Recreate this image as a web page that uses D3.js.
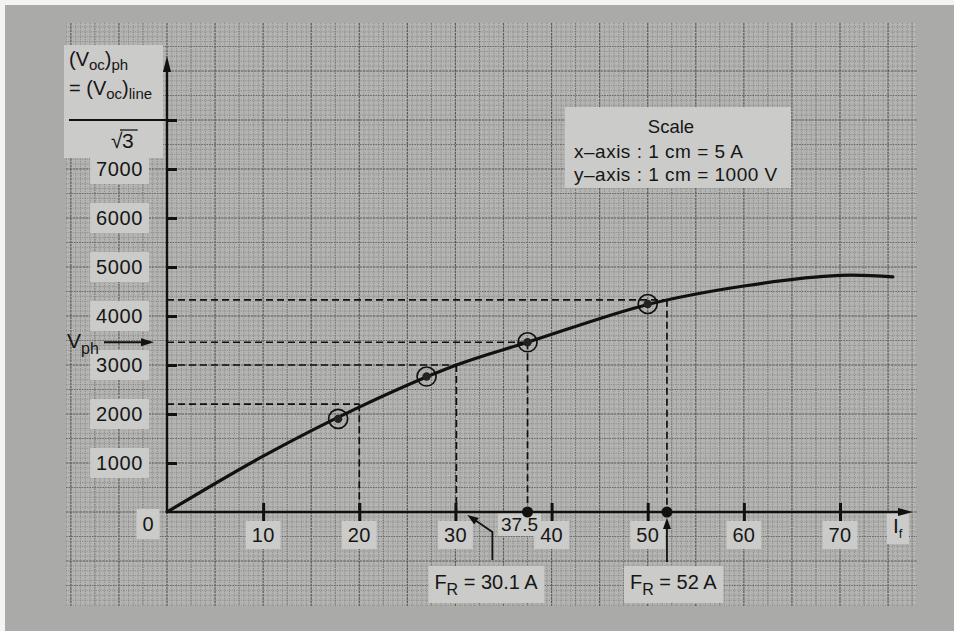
<!DOCTYPE html>
<html>
<head>
<meta charset="utf-8">
<script src="https://cdn.jsdelivr.net/npm/d3@7"></script>
<style>
  html, body { margin: 0; padding: 0; background: #f3f3f1; }
  svg { display: block; }
  text { font-family: "Liberation Sans", Arial, sans-serif; fill: #161616; }
</style>
</head>
<body>
<svg id="chart" width="954" height="631"></svg>
<script>
// Open-circuit characteristic: field current If (A) against phase voltage (V)
const curveCurrent = [0, 10, 20, 30.1, 37.5, 50, 60, 70, 75.5];
const curveVoltage = [0, 1140, 2140, 2998, 3464, 4235, 4613, 4828, 4798];

// circled test points
const pointCurrent = [17.8, 27, 37.5, 50];
const pointVoltage = [1900, 2765, 3464, 4245];

// construction lines: voltage level and the field current where it meets the curve
const guideVoltage = [2200, 3000, 3464, 4330];
const guideCurrent = [20, 30.1, 37.5, 52];
// field currents marked with a dot on the If axis
const markedCurrent = [37.5, 52];

const xTicks = [10, 20, 30, 40, 50, 60, 70];
const yTicks = [1000, 2000, 3000, 4000, 5000, 6000, 7000, 8000];
const yTickLabels = ["1000", "2000", "3000", "4000", "5000", "6000", "7000", ""];

const W = 954, H = 631;
const svg = d3.select("#chart");

const x = d3.scaleLinear().domain([0, 70]).range([167, 840]);
const y = d3.scaleLinear().domain([0, 7000]).range([512, 169]);
const x0 = x(0), y0 = y(0);

// page and sheet of graph paper
svg.append("rect").attr("width", W).attr("height", H).attr("fill", "#f3f3f1");
svg.append("rect").attr("x", 5).attr("y", 5).attr("width", W - 5).attr("height", H - 5).attr("fill", "#aaaaa8");

const paper = { left: 66, right: 917, top: 23, bottom: 606 };
svg.append("clipPath").attr("id", "paperClip").append("rect")
  .attr("x", paper.left).attr("y", paper.top)
  .attr("width", paper.right - paper.left).attr("height", paper.bottom - paper.top);
svg.append("rect")
  .attr("x", paper.left).attr("y", paper.top)
  .attr("width", paper.right - paper.left).attr("height", paper.bottom - paper.top)
  .attr("fill", "#b4b4b2");

// millimetre grid: 1 cm = 5 A horizontally, 1 cm = 1000 V vertically
const grid = svg.append("g").attr("clip-path", "url(#paperClip)");
const gridStyle = k => (k % 10 === 0) ? { c: "#575755", w: 1.2, d: "2.5,0.8" }
                    : (k % 5 === 0) ? { c: "#6a6a68", w: 1.0, d: "1.6,1" }
                    : { c: "#7e7e7c", w: 0.8, d: "1,1.3" };
{
  const kx0 = Math.ceil(x.invert(paper.left) / 0.5), kx1 = Math.floor(x.invert(paper.right) / 0.5);
  for (let k = kx0; k <= kx1; k++) {
    const s = gridStyle(Math.abs(k)), px = x(k * 0.5);
    grid.append("line").attr("x1", px).attr("x2", px).attr("y1", paper.top).attr("y2", paper.bottom)
      .attr("stroke", s.c).attr("stroke-width", s.w).attr("stroke-dasharray", s.d);
  }
  const ky0 = Math.ceil(y.invert(paper.bottom) / 100), ky1 = Math.floor(y.invert(paper.top) / 100);
  for (let k = ky0; k <= ky1; k++) {
    const s = gridStyle(Math.abs(k)), py = y(k * 100);
    grid.append("line").attr("y1", py).attr("y2", py).attr("x1", paper.left).attr("x2", paper.right)
      .attr("stroke", s.c).attr("stroke-width", s.w).attr("stroke-dasharray", s.d);
  }
}

const BOX = "#cbcbc9";
function boxBehind(sel, padX, padY) {
  sel.each(function () {
    const b = this.getBBox();
    d3.select(this.parentNode).insert("rect", () => this)
      .attr("x", b.x - padX).attr("y", b.y - padY)
      .attr("width", b.width + 2 * padX).attr("height", b.height + 2 * padY)
      .attr("fill", BOX);
  });
}

// scale note
const scaleG = svg.append("g");
scaleG.append("rect").attr("x", 565).attr("y", 107).attr("width", 226).attr("height", 81).attr("fill", BOX);
scaleG.append("text").attr("x", 671).attr("y", 133).attr("text-anchor", "middle").attr("font-size", 18.5).text("Scale");
scaleG.append("text").attr("x", 574).attr("y", 158).attr("font-size", 19).attr("letter-spacing", 0.5).text("x–axis  : 1 cm = 5 A");
scaleG.append("text").attr("x", 574).attr("y", 181).attr("font-size", 19).attr("letter-spacing", 0.5).text("y–axis  : 1 cm = 1000 V");

// axis label (Voc)ph = (Voc)line / √3
const yl = svg.append("g");
yl.append("rect").attr("x", 64).attr("y", 45).attr("width", 99).attr("height", 113).attr("fill", BOX);
const t1 = yl.append("text").attr("x", 69).attr("y", 66).attr("font-size", 20);
t1.append("tspan").text("(V");
t1.append("tspan").attr("font-size", 15).attr("dy", 4).text("oc");
t1.append("tspan").attr("dy", -4).text(")");
t1.append("tspan").attr("font-size", 15).attr("dy", 4).text("ph");
const t2 = yl.append("text").attr("x", 69).attr("y", 95).attr("font-size", 20);
t2.append("tspan").text("= (V");
t2.append("tspan").attr("font-size", 15).attr("dy", 4).text("oc");
t2.append("tspan").attr("dy", -4).text(")");
t2.append("tspan").attr("font-size", 15).attr("dy", 4).text("line");
yl.append("line").attr("x1", 69).attr("x2", x0).attr("y1", y(8000)).attr("y2", y(8000))
  .attr("stroke", "#111").attr("stroke-width", 2);
yl.append("text").attr("x", 111).attr("y", 148).attr("font-size", 21).text("√");
const three = yl.append("text").attr("x", 122).attr("y", 148).attr("font-size", 21).text("3");
{
  const b = three.node().getBBox();
  yl.append("line").attr("x1", b.x - 2).attr("x2", b.x + b.width + 4).attr("y1", 130).attr("y2", 130)
    .attr("stroke", "#161616").attr("stroke-width", 1.3);
}

// y-axis tick labels
const yLab = svg.append("g").selectAll("text").data(yTicks.filter((d, i) => yTickLabels[i]))
  .join("text").attr("x", 143).attr("y", d => y(d) + 7).attr("text-anchor", "end")
  .attr("font-size", 20).attr("letter-spacing", 0.6)
  .text(d => yTickLabels[yTicks.indexOf(d)]);
boxBehind(yLab, 6, 4);

// x-axis tick labels
const xLab = svg.append("g").selectAll("text").data(xTicks)
  .join("text").attr("x", d => x(d)).attr("y", y0 + 30).attr("text-anchor", "middle")
  .attr("font-size", 20).attr("letter-spacing", 0.3)
  .text(d => d);
boxBehind(xLab, 6, 3);

const zero = svg.append("text").attr("x", 148).attr("y", y0 + 19).attr("text-anchor", "middle").attr("font-size", 20).text("0");
boxBehind(zero, 6, 4);

const lab375 = svg.append("text").attr("x", x(37.5) - 8).attr("y", y0 + 19).attr("text-anchor", "middle")
  .attr("font-size", 19).text("37.5");
boxBehind(lab375, 3, 1);

const ifLab = svg.append("text").attr("x", 893).attr("y", y0 + 21).attr("font-size", 21)
  .attr("font-family", "'Liberation Serif', 'DejaVu Serif', serif");
ifLab.append("tspan").text("I");
ifLab.append("tspan").attr("font-size", 13).attr("dy", 5).attr("font-family", "'Liberation Sans', Arial, sans-serif").text("f");
boxBehind(ifLab, 6, 3);

// dashed construction lines
const guides = svg.append("g").attr("stroke", "#111").attr("stroke-width", 1.7).attr("stroke-dasharray", "7,4").attr("fill", "none");
guideVoltage.forEach((v, i) => {
  guides.append("line").attr("x1", x0).attr("x2", x(guideCurrent[i])).attr("y1", y(v)).attr("y2", y(v));
  guides.append("line").attr("x1", x(guideCurrent[i])).attr("x2", x(guideCurrent[i])).attr("y1", y(v)).attr("y2", y0);
});

// axes with thick cross ticks
const axes = svg.append("g").attr("stroke", "#111");
axes.append("line").attr("x1", x0).attr("x2", x0).attr("y1", y0).attr("y2", 66).attr("stroke-width", 2.4);
axes.append("path").attr("d", `M${x0},56 L${x0 - 4},72 L${x0 + 4},72 Z`).attr("fill", "#111").attr("stroke", "none");
axes.append("line").attr("x1", x0).attr("x2", 902).attr("y1", y0).attr("y2", y0).attr("stroke-width", 2.4);
axes.append("path").attr("d", `M913,${y0} L898,${y0 - 4} L898,${y0 + 4} Z`).attr("fill", "#111").attr("stroke", "none");

const xAxis = d3.axisBottom(x).tickValues(xTicks).tickSize(9).tickFormat("");
const gx = svg.append("g").attr("transform", `translate(0,${y0})`).call(xAxis);
gx.select(".domain").remove();
gx.selectAll(".tick line").attr("y1", -9).attr("stroke", "#111").attr("stroke-width", 3);

const yAxis = d3.axisLeft(y).tickValues(yTicks).tickSize(10).tickFormat("");
const gy = svg.append("g").attr("transform", `translate(${x0},0)`).call(yAxis);
gy.select(".domain").remove();
gy.selectAll(".tick line").attr("x2", 10).attr("stroke", "#111").attr("stroke-width", 3);

// the characteristic
const line = d3.line().x(d => x(d[0])).y(d => y(d[1])).curve(d3.curveCatmullRom.alpha(0.5));
svg.append("path").datum(d3.zip(curveCurrent, curveVoltage)).attr("d", line)
  .attr("fill", "none").attr("stroke", "#111").attr("stroke-width", 3.2).attr("stroke-linecap", "round");

// circled points
const pts = svg.append("g").selectAll("g").data(d3.zip(pointCurrent, pointVoltage)).join("g")
  .attr("transform", d => `translate(${x(d[0])},${y(d[1])})`);
pts.append("circle").attr("r", 9.5).attr("fill", "none").attr("stroke", "#111").attr("stroke-width", 1.7);
pts.append("circle").attr("r", 4.2).attr("fill", "#222");

// dots on the If axis
svg.append("g").selectAll("circle").data(markedCurrent).join("circle")
  .attr("cx", d => x(d)).attr("cy", y0).attr("r", 5.5).attr("fill", "#111");

// Vph marker
const vph = svg.append("text").attr("x", 67).attr("y", y(3464) + 6).attr("font-size", 21);
vph.append("tspan").text("V");
vph.append("tspan").attr("font-size", 16).attr("dy", 6).text("ph");
svg.append("line").attr("x1", 104).attr("x2", 143).attr("y1", y(3464)).attr("y2", y(3464))
  .attr("stroke", "#111").attr("stroke-width", 2);
svg.append("path").attr("d", `M154,${y(3464)} L141,${y(3464) - 4} L141,${y(3464) + 4} Z`).attr("fill", "#111");

// resultant field current annotations
function arrowHead(tx, ty, ang) {
  const L = 11, w = 4;
  const bx = tx - L * Math.cos(ang), by = ty - L * Math.sin(ang);
  const nx = -Math.sin(ang) * w, ny = Math.cos(ang) * w;
  svg.append("path").attr("d", `M${tx},${ty} L${bx + nx},${by + ny} L${bx - nx},${by - ny} Z`).attr("fill", "#111");
}
{
  const xa = x(guideCurrent[1]);
  const tip = [xa + 11, y0 + 3], knee = [xa + 36, y0 + 20];
  svg.append("path").attr("d", `M${knee[0]},${y0 + 48} L${knee[0]},${knee[1]} L${tip[0] + 6},${tip[1] + 4}`)
    .attr("fill", "none").attr("stroke", "#111").attr("stroke-width", 1.8);
  arrowHead(tip[0], tip[1], Math.atan2(tip[1] - knee[1], tip[0] - knee[0]));
  const t = svg.append("text").attr("x", xa - 22).attr("y", y0 + 77).attr("font-size", 20);
  t.append("tspan").text("F");
  t.append("tspan").attr("font-size", 16).attr("dy", 6).text("R");
  t.append("tspan").attr("dy", -6).text(" = 30.1 A");
  boxBehind(t, 6, 5);
}
{
  const xa = x(guideCurrent[3]);
  svg.append("line").attr("x1", xa).attr("x2", xa).attr("y1", y0 + 50).attr("y2", y0 + 16)
    .attr("stroke", "#111").attr("stroke-width", 1.8);
  arrowHead(xa, y0 + 6, -Math.PI / 2);
  const t = svg.append("text").attr("x", xa - 37).attr("y", y0 + 77).attr("font-size", 20);
  t.append("tspan").text("F");
  t.append("tspan").attr("font-size", 16).attr("dy", 6).text("R");
  t.append("tspan").attr("dy", -6).text(" = 52 A");
  boxBehind(t, 6, 5);
}
</script>
</body>
</html>
